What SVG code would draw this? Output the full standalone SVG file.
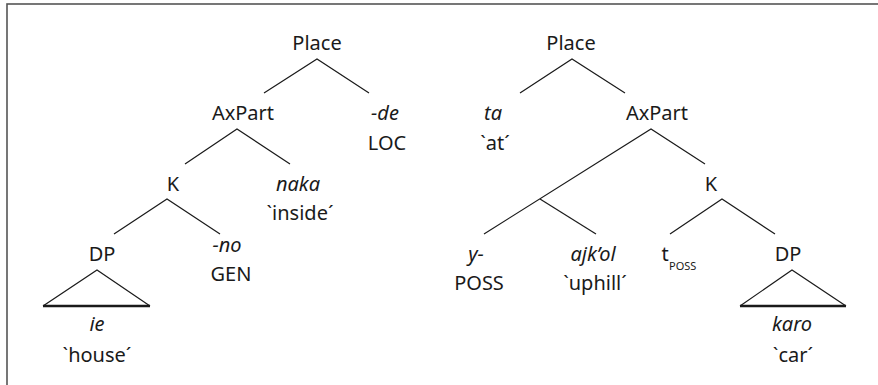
<svg xmlns="http://www.w3.org/2000/svg" width="878" height="385" viewBox="0 0 878 385">
<style>
text{font-family:"Noto Sans","Open Sans","Liberation Sans",sans-serif;font-size:20px;fill:#1a1a1a;text-anchor:middle}
.i{font-style:italic}
.sub{font-size:11px;text-anchor:start}
.ln{stroke:#1a1a1a;stroke-width:1.2;fill:none}
.base{stroke:#1a1a1a;stroke-width:2.6}
</style>
<rect x="7" y="4" width="880" height="390" fill="#fff" stroke="#555" stroke-width="1.6"/>
<g id="connectors">
<path class="ln" d="M264,93 L317,59 L369,93"/>
<path class="ln" d="M185,164 L237,129 L290,164"/>
<path class="ln" d="M114,234 L167,199 L220,234"/>
<path class="ln" d="M520,93 L572,59 L625,93"/>
<path class="ln" d="M484,234 L651,129 L705,164"/>
<path class="ln" d="M540,199 L596,234"/>
<path class="ln" d="M670,234 L722,199 L775,234"/>
</g>
<g id="L-Place"><text x="317" y="50">Place</text></g>
<g id="L-AxPart"><text x="243" y="120">AxPart</text></g>
<g id="L-de"><text class="i" x="385" y="120">-de</text><text x="387" y="150">LOC</text></g>
<g id="L-K"><text x="173" y="191">K</text></g>
<g id="L-naka"><text class="i" x="298" y="191">naka</text><text x="300" y="220">`inside´</text></g>
<g id="L-DP"><text x="102" y="261">DP</text>
<path class="ln" d="M43,306 L97,270 L150,306"/><line class="base" x1="43" y1="306" x2="150" y2="306"/></g>
<g id="L-no"><text class="i" x="227" y="252">-no</text><text x="231" y="281">GEN</text></g>
<g id="L-ie"><text class="i" x="97" y="331">ie</text><text x="97" y="362">`house´</text></g>
<g id="R-Place"><text x="571" y="50">Place</text></g>
<g id="R-ta"><text class="i" x="493" y="120">ta</text><text x="495" y="150">`at´</text></g>
<g id="R-AxPart"><text x="657" y="120">AxPart</text></g>
<g id="R-K"><text x="711" y="191">K</text></g>
<g id="R-y"><text class="i" x="476" y="261">y-</text><text x="479" y="290">POSS</text></g>
<g id="R-ajkol"><text class="i" x="593" y="261">ajk’ol</text><text x="595" y="290">`uphill´</text></g>
<g id="R-t"><text x="665" y="261">t</text><text class="sub" x="669" y="270">POSS</text></g>
<g id="R-DP"><text x="788" y="261">DP</text>
<path class="ln" d="M740,306 L792,270 L846,306"/><line class="base" x1="740" y1="306" x2="846" y2="306"/></g>
<g id="R-karo"><text class="i" x="792" y="331">karo</text><text x="793" y="362">`car´</text></g>
</svg>
